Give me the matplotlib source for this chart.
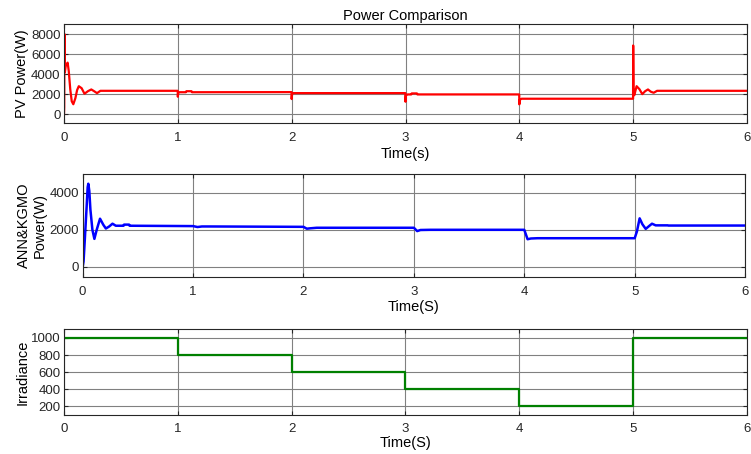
"""
Power comparison: PV power, ANN&KGMO power, irradiance steps
"""
import matplotlib.pyplot as plt

# PV power (red)
pv_t = [0, 0.002, 0.004, 0.008, 0.015, 0.025, 0.032, 0.042, 0.055, 0.068, 0.082, 0.1, 0.115,
        0.13, 0.155, 0.18, 0.21, 0.24, 0.265, 0.29, 0.32,
        0.999, 1.0, 1.004, 1.01, 1.07, 1.075, 1.12, 1.125,
        1.999, 2.0, 2.004, 2.01, 2.05,
        2.999, 3.0, 3.004, 3.02, 3.05, 3.055, 3.1, 3.105,
        3.999, 4.0, 4.004, 4.02, 4.05,
        4.999, 5.0, 5.003, 5.01, 5.03, 5.055, 5.08, 5.105, 5.13, 5.155, 5.18, 5.21,
        6.0]
pv_p = [0, 700, 8000, 4200, 4800, 5000, 5150, 4300, 2500, 1300, 1000, 1600, 2400,
        2800, 2600, 2050, 2300, 2475, 2300, 2110, 2340,
        2340, 1750, 2200, 2200, 2200, 2300, 2300, 2200,
        2210, 1520, 2050, 2110, 2110,
        2110, 1250, 1900, 1980, 1980, 2080, 2080, 1980,
        1980, 990, 1450, 1550, 1550,
        1550, 6860, 2200, 1900, 2800, 2500, 2010, 2300, 2475, 2250, 2145, 2340,
        2340]

# ANN&KGMO power (blue)
ann_t = [0, 0.008, 0.02, 0.036, 0.045, 0.051, 0.06, 0.07, 0.088, 0.106, 0.127, 0.157,
         0.187, 0.21, 0.24, 0.27, 0.3, 0.37, 0.375, 0.42, 0.425,
         1.0, 1.04, 1.08, 1.15, 2.0, 2.03, 2.06, 2.12, 3.0, 3.03, 3.06, 3.15,
         4.0, 4.03, 4.06, 4.12, 5.0, 5.02, 5.045, 5.07, 5.1, 5.13, 5.157, 5.19,
         5.3, 5.305, 6.0]
ann_p = [0, 300, 1550, 3270, 4300, 4490, 4100, 3090, 2000, 1510, 2000, 2600,
         2270, 2070, 2180, 2330, 2220, 2220, 2280, 2280, 2220,
         2200, 2150, 2180, 2180, 2160, 2060, 2080, 2110, 2110, 1930, 1990, 2000,
         2000, 1490, 1530, 1545, 1545, 1900, 2620, 2300, 2050, 2200, 2330, 2240,
         2240, 2230, 2230]

# irradiance steps (green)
irr_t = [0, 1, 2, 3, 4, 5, 6]
irr_g = [1000, 800, 600, 400, 200, 1000, 1000]

xticks = [0, 1, 2, 3, 4, 5, 6]

plt.rcParams['font.family'] = ['Liberation Sans', 'DejaVu Sans']

fig = plt.figure(figsize=(7.51, 4.54), dpi=100)
ax1 = fig.add_axes([0.0852, 0.7284, 0.9095, 0.2187])
ax2 = fig.add_axes([0.1101, 0.3899, 0.8820, 0.2262])
ax3 = fig.add_axes([0.0852, 0.0859, 0.9091, 0.1888])

ax1.plot(pv_t, pv_p, color='red', linewidth=1.6)
ax2.plot(ann_t, ann_p, color='blue', linewidth=1.8)
ax3.step(irr_t, irr_g, where='post', color='green', linewidth=1.6)

ax1.set_ylim(-900, 9000)
ax1.set_yticks([0, 2000, 4000, 6000, 8000])
ax2.set_ylim(-550, 5000)
ax2.set_yticks([0, 2000, 4000])
ax3.set_ylim(100, 1100)
ax3.set_yticks([200, 400, 600, 800, 1000])

for ax in (ax1, ax2, ax3):
    ax.set_xlim(0, 6)
    ax.set_xticks(xticks)
    ax.grid(True, color='#808080', linewidth=0.8)
    ax.tick_params(direction='in', top=True, right=True, labelsize=9.5,
                   colors='#262626', length=3)
    ax.tick_params(axis='x', pad=6.5)
    ax.tick_params(axis='y', pad=2.5)
    for s in ax.spines.values():
        s.set_color('#262626')
        s.set_linewidth(0.8)
ax3.tick_params(axis='x', pad=6.0)

ax1.set_title('Power Comparison', fontsize=10.5, pad=3)
ax1.set_xlabel('Time(s)', fontsize=10.5)
ax1.set_ylabel('PV Power(W)', fontsize=10.5)
ax2.set_xlabel('Time(S)', fontsize=10.5)
ax2.set_ylabel('ANN&KGMO\nPower(W)', fontsize=10.5, linespacing=1.15)
ax3.set_xlabel('Time(S)', fontsize=10.5)
ax3.set_ylabel('Irradiance', fontsize=10.5)

# label positions (axes fraction)
ax1.xaxis.set_label_coords(0.5, -0.235)
ax2.xaxis.set_label_coords(0.5, -0.22)
ax3.xaxis.set_label_coords(0.5, -0.24)
ax1.yaxis.set_label_coords(-0.051, 0.5)
ax2.yaxis.set_label_coords(-0.0547, 0.5)
ax3.yaxis.set_label_coords(-0.051, 0.5)

fig.savefig('out.png', dpi=100)
